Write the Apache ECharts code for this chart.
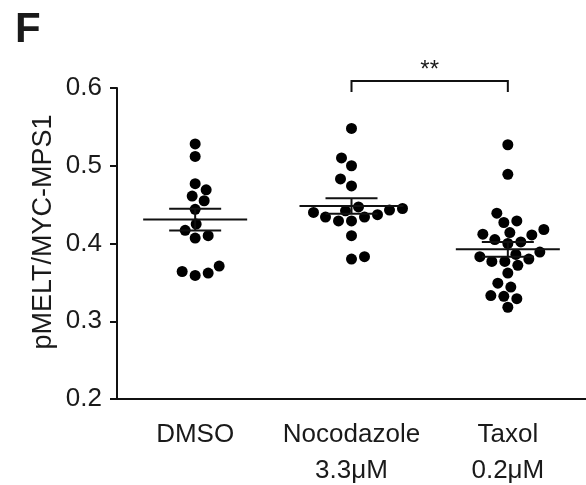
<!DOCTYPE html>
<html>
<head>
  <meta charset="utf-8">
  <title>pMELT/MYC-MPS1</title>
  <script src="https://cdn.jsdelivr.net/npm/echarts@6/dist/echarts.min.js"></script>
</head>
<body style="margin:0;background:#fff">
  <div id="main" style="width:586px;height:485px;"></div>
  <script type="text/javascript">
    // data
    var categories = ['DMSO', 'Nocodazole\n3.3μM', 'Taxol\n0.2μM'];
    var yTicks = [0.2, 0.3, 0.4, 0.5, 0.6];
    var dmso = [0.528, 0.512, 0.477, 0.469, 0.461, 0.455, 0.444, 0.425, 0.417, 0.410, 0.407, 0.371, 0.364, 0.362, 0.359];
    var nocodazole = [0.548, 0.510, 0.500, 0.483, 0.474, 0.447, 0.445, 0.443, 0.442, 0.440, 0.437, 0.434, 0.434, 0.429, 0.429, 0.410, 0.383, 0.380];
    var taxol = [0.527, 0.489, 0.439, 0.429, 0.427, 0.418, 0.414, 0.412, 0.411, 0.405, 0.402, 0.400, 0.389, 0.386, 0.383, 0.380, 0.377, 0.377, 0.372, 0.362, 0.349, 0.344, 0.333, 0.332, 0.329, 0.318];
    var groups = [dmso, nocodazole, taxol];
    var sigPair = [1, 2];
    var sigLabel = '**';

    var font = '"Liberation Sans", Arial, Helvetica, sans-serif';
    var ink = '#111';
    var dot = 11;

    var myChart = echarts.init(document.getElementById('main'));

    function meanSem(a) {
      var m = a.reduce(function (s, v) { return s + v; }, 0) / a.length;
      var ss = a.reduce(function (s, v) { return s + (v - m) * (v - m); }, 0);
      return [m, Math.sqrt(ss / (a.length - 1)) / Math.sqrt(a.length)];
    }

    var base = {
      animation: false,
      grid: { left: 117, right: 0, top: 88, bottom: 86, outerBoundsMode: 'none', containLabel: false },
      xAxis: [
        {
          type: 'category',
          data: categories,
          axisLine: { lineStyle: { color: ink, width: 2 } },
          axisTick: { alignWithLabel: true, length: 8, lineStyle: { color: ink, width: 2 } },
          axisLabel: {
            interval: 0, hideOverlap: false,
            color: '#1a1a1a', fontFamily: font, fontSize: 26, lineHeight: 36, margin: 18
          }
        },
        { type: 'value', min: 0, max: 3, show: false }
      ],
      yAxis: {
        type: 'value',
        min: yTicks[0],
        max: yTicks[yTicks.length - 1],
        interval: 0.1,
        splitLine: { show: false },
        axisLine: { show: true, lineStyle: { color: ink, width: 2 } },
        axisTick: { show: true, length: 7, lineStyle: { color: ink, width: 2 } },
        axisLabel: {
          color: '#1a1a1a', fontFamily: font, fontSize: 26, margin: 15,
          formatter: function (v) { return v.toFixed(1); }
        }
      },
      series: [{ type: 'scatter', xAxisIndex: 1, data: [] }]
    };
    myChart.setOption(base);

    // simple beeswarm in pixel space so dots sit side by side
    function swarm(vals, center) {
      var cx = myChart.convertToPixel({ xAxisIndex: 1 }, center);
      var order = vals.map(function (v, i) { return i; })
        .sort(function (a, b) { return vals[a] - vals[b]; });
      var placed = [];
      var out = [];
      var gapX = 13, gapY = 11;
      order.forEach(function (i, n) {
        var py = myChart.convertToPixel({ yAxisIndex: 0 }, vals[i]);
        var px = cx;
        for (var s = 0; s < 150; s++) {
          var tries = n % 2 ? [s, -s] : [-s, s];
          var ok = false;
          for (var t = 0; t < 2; t++) {
            var x = cx + tries[t];
            var clash = placed.some(function (p) {
              var dx = (p[0] - x) / gapX, dy = (p[1] - py) / gapY;
              return dx * dx + dy * dy < 1;
            });
            if (!clash) { px = x; ok = true; break; }
          }
          if (ok) break;
        }
        placed.push([px, py]);
        out.push([myChart.convertFromPixel({ xAxisIndex: 1 }, px), vals[i]]);
      });
      return out;
    }

    var points = [];
    var stats = [];
    groups.forEach(function (g, i) {
      points = points.concat(swarm(g, i + 0.5));
      var ms = meanSem(g);
      stats.push([i + 0.5, ms[0], ms[1]]);
    });

    var bx1 = myChart.convertToPixel({ xAxisIndex: 1 }, sigPair[0] + 0.5);
    var bx2 = myChart.convertToPixel({ xAxisIndex: 1 }, sigPair[1] + 0.5);

    myChart.setOption({
      series: [
        {
          type: 'scatter',
          xAxisIndex: 1,
          symbolSize: dot,
          itemStyle: { color: '#000', opacity: 1 },
          data: points,
          z: 2
        },
        {
          type: 'custom',
          xAxisIndex: 1,
          data: stats,
          z: 3,
          renderItem: function (params, api) {
            var x = api.value(0), m = api.value(1), s = api.value(2);
            var c = api.coord([x, m]);
            var hi = api.coord([x, m + s])[1];
            var lo = api.coord([x, m - s])[1];
            var st = { stroke: ink, lineWidth: 2 };
            return {
              type: 'group',
              children: [
                { type: 'line', shape: { x1: c[0] - 52, y1: c[1], x2: c[0] + 52, y2: c[1] }, style: st },
                { type: 'line', shape: { x1: c[0], y1: hi, x2: c[0], y2: lo }, style: st },
                { type: 'line', shape: { x1: c[0] - 26, y1: hi, x2: c[0] + 26, y2: hi }, style: st },
                { type: 'line', shape: { x1: c[0] - 26, y1: lo, x2: c[0] + 26, y2: lo }, style: st }
              ]
            };
          }
        }
      ],
      graphic: [
        {
          type: 'text', left: 15, top: 9,
          style: { text: 'F', fontFamily: font, fontWeight: 'bold', fontSize: 42, fill: '#1a1a1a' }
        },
        {
          type: 'text', x: 44, y: 232, rotation: Math.PI / 2,
          style: {
            text: 'pMELT/MYC-MPS1', fontFamily: font, fontSize: 27, fill: '#1a1a1a',
            align: 'center', verticalAlign: 'middle'
          }
        },
        {
          type: 'polyline',
          shape: { points: [[bx1, 92], [bx1, 81], [bx2, 81], [bx2, 92]] },
          style: { stroke: ink, lineWidth: 2, fill: null }
        },
        {
          type: 'text', x: (bx1 + bx2) / 2, y: 70,
          style: {
            text: sigLabel, fontFamily: font, fontSize: 24, fill: '#1a1a1a',
            align: 'center', verticalAlign: 'middle'
          }
        }
      ]
    });
  </script>
</body>
</html>
